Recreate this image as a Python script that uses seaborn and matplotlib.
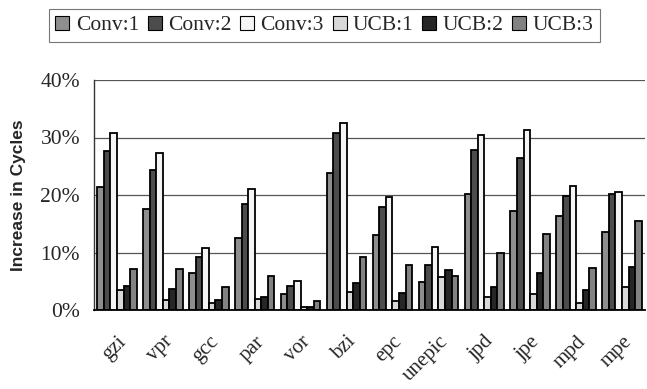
import matplotlib
matplotlib.use("Agg")
import matplotlib.pyplot as plt
import seaborn as sns
import pandas as pd
import numpy as np
from matplotlib.ticker import FuncFormatter, FixedLocator
from matplotlib.patches import Patch

benchmarks = ["gzi", "vpr", "gcc", "par", "vor", "bzi", "epc", "unepic", "jpd", "jpe", "mpd", "mpe"]
series = ["Conv:1", "Conv:2", "Conv:3", "UCB:1", "UCB:2", "UCB:3"]
conv1 = [21.4, 17.5, 6.4, 12.6, 2.7, 23.8, 13.0, 4.9, 20.2, 17.2, 16.3, 13.6]
conv2 = [27.6, 24.4, 9.3, 18.5, 4.1, 30.8, 18.0, 7.9, 27.9, 26.4, 19.8, 20.2]
conv3 = [30.8, 27.3, 10.8, 21.1, 5.1, 32.6, 19.6, 10.9, 30.5, 31.3, 21.6, 20.6]
ucb1 = [3.4, 1.7, 1.3, 1.9, 0.5, 3.2, 1.6, 5.8, 2.2, 2.8, 1.3, 4.0]
ucb2 = [4.1, 3.7, 1.8, 2.2, 0.6, 4.7, 2.9, 7.0, 4.0, 6.4, 3.4, 7.5]
ucb3 = [7.2, 7.2, 4.0, 6.0, 1.5, 9.3, 7.9, 6.0, 9.9, 13.3, 7.3, 15.4]
y_ticks = [0, 10, 20, 30, 40]

values = [conv1, conv2, conv3, ucb1, ucb2, ucb3]
rows = []
for s, vals in zip(series, values):
    for b, v in zip(benchmarks, vals):
        rows.append({"bench": b, "series": s, "value": v})
df = pd.DataFrame(rows)

colors = ["#8e8e8e", "#4c4c4c", "#f5f5f5", "#d8d8d8", "#262626", "#828282"]

sns.set_style("white")
fig = plt.figure(figsize=(6.47, 3.89), dpi=100)
ax = fig.add_axes([94/647, 1-310/389, 551/647, 230/389])

sns.barplot(data=df, x="bench", y="value", hue="series", hue_order=series,
            order=benchmarks, palette=colors, edgecolor="black", linewidth=1.3,
            width=0.86, gap=0, ax=ax, legend=False, saturation=1)

ax.set_ylim(0, 40)
ax.set_xlim(-0.5, len(benchmarks) - 0.5)
ax.set_yticks(y_ticks)
ax.yaxis.set_major_formatter(FuncFormatter(lambda v, p: f"{int(v)}%"))
ax.yaxis.grid(True, color="#555555", linewidth=0.9)
ax.set_axisbelow(True)
for sp in ["top", "right"]:
    ax.spines[sp].set_visible(False)
ax.spines["left"].set_color("#333333")
ax.spines["bottom"].set_color("black")
ax.spines["left"].set_linewidth(1)
ax.spines["bottom"].set_linewidth(1.3)

serif = ["Liberation Serif", "DejaVu Serif"]
ax.tick_params(axis="y", length=0, pad=10)
for lab in ax.get_yticklabels():
    lab.set_fontfamily(serif)
    lab.set_fontsize(15.5)

ax.set_xticks(range(len(benchmarks)))
ax.set_xticklabels(benchmarks, rotation=45, ha="right", rotation_mode="anchor",
                   fontfamily=serif, fontsize=15)
ax.tick_params(axis="x", which="major", length=0, pad=16)
ax.xaxis.set_minor_locator(FixedLocator(np.arange(-0.5, len(benchmarks), 1.0)))
ax.tick_params(axis="x", which="minor", length=5, width=1, color="black", direction="out")

ax.set_xlabel("")
ax.set_ylabel("Increase in Cycles", fontfamily=["Liberation Sans", "DejaVu Sans"],
              fontweight="bold", fontsize=12.5)
ax.yaxis.set_label_coords(-(94 - 26) / 551, 0.5)

handles = [Patch(facecolor=c, edgecolor="black", linewidth=0.8) for c in colors]
leg = fig.legend(handles, series, loc="center", bbox_to_anchor=(324.5/647, 1-25.5/389),
                 ncol=6, frameon=True, fancybox=False, edgecolor="#555555",
                 prop={"family": serif, "size": 15.5}, handlelength=0.65, handleheight=0.65,
                 handletextpad=0.3, columnspacing=0.4, borderpad=0.3, borderaxespad=0)
leg.get_frame().set_linewidth(0.8)

fig.savefig("out.png", dpi=100)
